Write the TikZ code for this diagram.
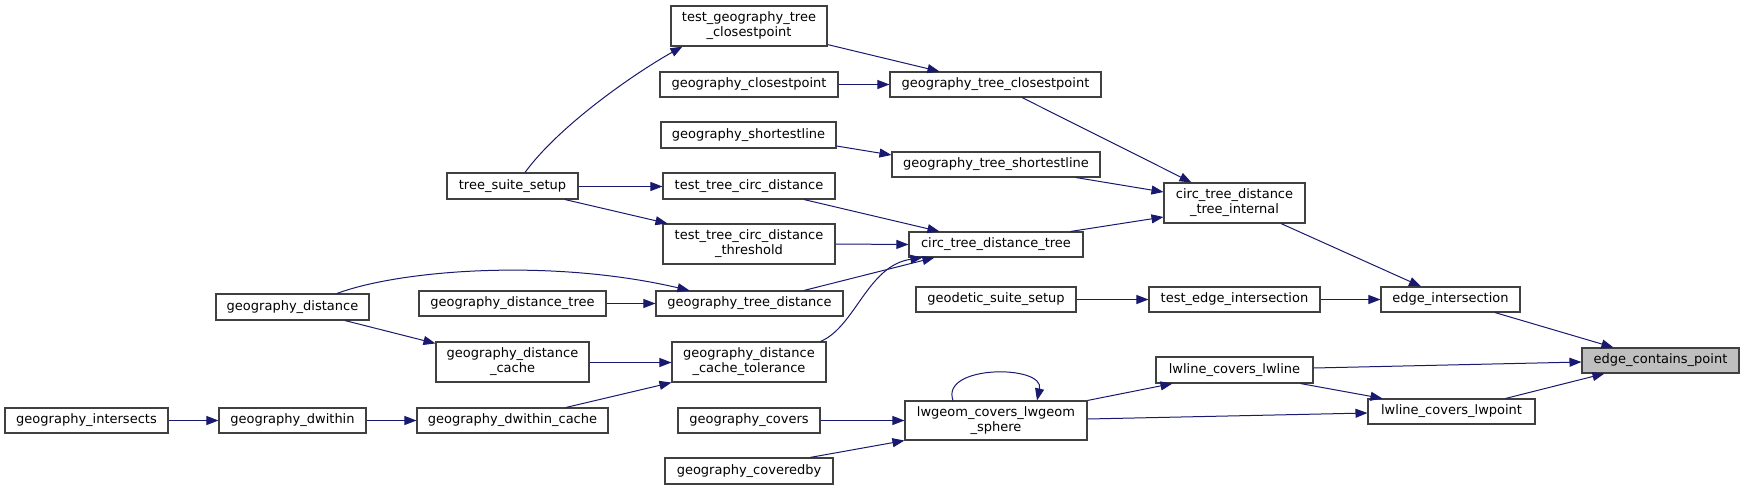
\documentclass[tikz,border=0pt]{standalone}
\usepackage{fontspec}
\setmainfont{DejaVu Sans}
\usetikzlibrary{arrows.meta}
\definecolor{edgecol}{HTML}{191970}
\definecolor{boxline}{HTML}{404040}
\definecolor{hilite}{HTML}{BFBFBF}
\begin{document}
\begin{tikzpicture}[x=1pt,y=-1pt,
  box/.style={draw=boxline,line width=1.1pt,fill=white,inner sep=0pt,align=center,
    font=\fontsize{13}{15}\selectfont},
  call/.style={draw=edgecol,line width=1pt,-{Triangle[length=12pt,width=9pt]}}]
\useasboundingbox[fill=white] (0,0) rectangle (1744,490);
% nodes
\node[box,minimum width=131,minimum height=26] (tst) at (512.5,186) {tree\_suite\_setup};
\node[box,minimum width=156,minimum height=40] (tgtc) at (749,26) {test\_geography\_tree\\\_closestpoint};
\node[box,minimum width=178,minimum height=25] (gcp) at (749,84.5) {geography\_closestpoint};
\node[box,minimum width=211,minimum height=25] (gtc) at (995.5,84.5) {geography\_tree\_closestpoint};
\node[box,minimum width=175,minimum height=26] (gsl) at (748.5,135) {geography\_shortestline};
\node[box,minimum width=208,minimum height=25] (gts) at (996,164.5) {geography\_tree\_shortestline};
\node[box,minimum width=172,minimum height=26] (ttcd) at (749,186) {test\_tree\_circ\_distance};
\node[box,minimum width=172,minimum height=40] (ttcdt) at (749,244) {test\_tree\_circ\_distance\\\_threshold};
\node[box,minimum width=174,minimum height=25] (ctdt) at (996,244.5) {circ\_tree\_distance\_tree};
\node[box,minimum width=141,minimum height=40] (ctdti) at (1234.5,203) {circ\_tree\_distance\\\_tree\_internal};
\node[box,minimum width=153,minimum height=26] (gd) at (292.5,307) {geography\_distance};
\node[box,minimum width=187,minimum height=25] (gdt) at (512.5,303.5) {geography\_distance\_tree};
\node[box,minimum width=187,minimum height=25] (gtd) at (749.5,303.5) {geography\_tree\_distance};
\node[box,minimum width=160,minimum height=25] (gss) at (996,299.5) {geodetic\_suite\_setup};
\node[box,minimum width=171,minimum height=25] (tei) at (1234.5,299.5) {test\_edge\_intersection};
\node[box,minimum width=139,minimum height=25] (ei) at (1450.5,299.5) {edge\_intersection};
\node[box,minimum width=153,minimum height=40] (gdc) at (512.5,362) {geography\_distance\\\_cache};
\node[box,minimum width=154,minimum height=40] (gdct) at (749,362) {geography\_distance\\\_cache\_tolerance};
\node[box,fill=hilite,minimum width=157,minimum height=25] (ecp) at (1660.5,360.5) {edge\_contains\_point};
\node[box,minimum width=157,minimum height=26] (lcl) at (1234.5,370) {lwline\_covers\_lwline};
\node[box,minimum width=167,minimum height=25] (lclp) at (1451.5,411.5) {lwline\_covers\_lwpoint};
\node[box,minimum width=163,minimum height=25] (gi) at (86.5,420.5) {geography\_intersects};
\node[box,minimum width=147,minimum height=25] (gdw) at (292.5,420.5) {geography\_dwithin};
\node[box,minimum width=191,minimum height=25] (gdwc) at (512.5,420.5) {geography\_dwithin\_cache};
\node[box,minimum width=142,minimum height=25] (gc) at (749,420.5) {geography\_covers};
\node[box,minimum width=182,minimum height=39] (lcls) at (996,420.5) {lwgeom\_covers\_lwgeom\\\_sphere};
\node[box,minimum width=168,minimum height=26] (gcb) at (749,471) {geography\_coveredby};
% edges
\draw[call] ([xshift=12.5pt]tst.north) .. controls +(35,-48) and +(-45,25) .. ([xshift=12pt]tgtc.south west);
\draw[call] ([yshift=-0.5pt]tst.east) -- ([yshift=-0.5pt]ttcd.west);
\draw[call] ([xshift=52.5pt]tst.south) -- ([xshift=5pt]ttcdt.north west);
\draw[call] ([yshift=2pt]tgtc.south east) -- ([xshift=50pt]gtc.north west);
\draw[call] (gcp.east) -- (gtc.west);
\draw[call] ([xshift=26.5pt]gtc.south) -- ([xshift=28pt]ctdti.north west);
\draw[call] ([yshift=-11pt]gsl.east) -- ([yshift=9.5pt]gts.west);
\draw[call] ([xshift=80pt]gts.south) -- ([yshift=11pt]ctdti.west);
\draw[call] ([xshift=55pt]ttcd.south) -- ([xshift=31pt]ctdt.north west);
\draw[call] (ttcdt.east) -- (ctdt.west);
\draw[call] ([xshift=-13pt]ctdt.north east) -- ([yshift=-14pt]ctdti.west);
\draw[call] ([xshift=44.5pt]gd.north) .. controls (400,270) and (550,258) .. ([xshift=34pt]gtd.north west);
\draw[call] ([xshift=52.5pt]gd.south) -- ([yshift=-2pt]gdc.north west);
\draw[call] (gdt.east) -- (gtd.west);
\draw[call] ([xshift=54.5pt]gtd.north) -- ([xshift=26pt]ctdt.south west);
\draw[call] ([xshift=-6pt]gdct.north east) .. controls +(35,-15) and +(-55,8) .. ([xshift=14pt]ctdt.south west);
\draw[call] ([yshift=-0.5pt]gdc.east) -- ([yshift=-0.5pt]gdct.west);
\draw[call] ([xshift=53.5pt]gdwc.north) -- (gdct.south west);
\draw[call] (gi.east) -- (gdw.west);
\draw[call] (gdw.east) -- (gdwc.west);
\draw[call] (gss.east) -- (tei.west);
\draw[call] (tei.east) -- (ei.west);
\draw[call] ([xshift=46.5pt]ctdti.south) -- ([xshift=-29.5pt]ei.north);
\draw[call] ([xshift=44.5pt]ei.south) -- ([xshift=32pt]ecp.north west);
\draw[call] ([yshift=2pt]lcl.east) -- ([yshift=-1.5pt]ecp.west);
\draw[call] ([xshift=-13pt]lcl.south east) -- ([xshift=15pt]lclp.north west);
\draw[call] ([xshift=-30pt]lclp.north east) -- ([xshift=23pt]ecp.south west);
\draw[call] (lcls.north east) -- ([xshift=17pt]lcl.south west);
\draw[call] ([yshift=1.5pt]lcls.east) -- ([yshift=-1.5pt]lclp.west);
\draw[call] ([xshift=-43pt]lcls.north) .. controls +(-13,-36) and +(8,-36) .. ([xshift=41pt]lcls.north);
\draw[call] (gc.east) -- (lcls.west);
\draw[call] ([xshift=61pt]gcb.north) -- (lcls.south west);
\end{tikzpicture}
\end{document}
